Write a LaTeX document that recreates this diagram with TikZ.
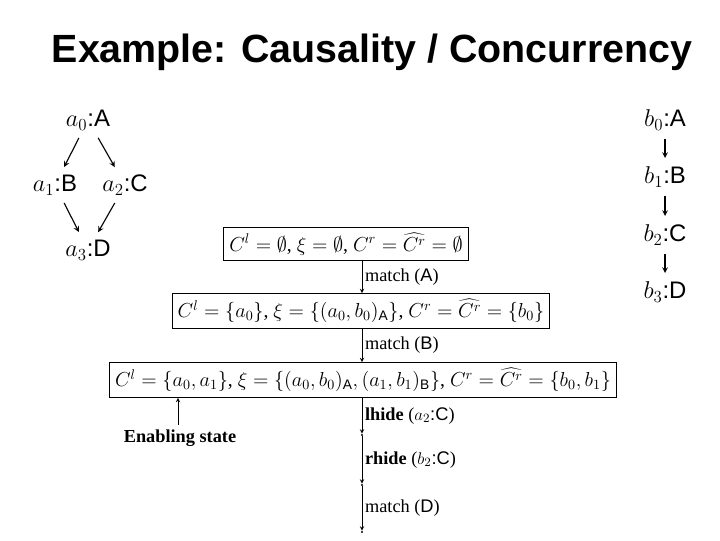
\documentclass[tikz,border=0pt]{standalone}
\usepackage{fontspec}
\setmainfont{Liberation Serif}
\setsansfont{Liberation Sans}
\usetikzlibrary{positioning}
\newcommand{\ev}[2]{$#1$\textsf{:#2}}
\tikzset{
  ev/.style={font=\fontsize{17}{19}\selectfont\sffamily, inner sep=1pt},
  evarrow/.style={->, thick, shorten >=5pt, shorten <=5pt},
  statebox/.style={draw, thick, font=\fontsize{14}{16}\selectfont, inner sep=4pt},
  dot/.style={circle, fill, inner sep=0pt, minimum size=1.6pt},
  lbl/.style={right, font=\fontsize{13}{15}\selectfont, inner sep=2pt},
}
\begin{document}
\begin{tikzpicture}[x=0.025cm,y=-0.025cm,>=stealth]
  \useasboundingbox (0,0) rectangle (720,540);
  \node[font=\fontsize{28}{32}\selectfont\sffamily\bfseries] (title) at (372,52) {Example: Causality / Concurrency};

  % left process
  \node[ev] (a0) at (88,120) {\ev{a_0}{A}};
  \node[ev] (a1) at (55,185) {\ev{a_1}{B}};
  \node[ev] (a2) at (125,185) {\ev{a_2}{C}};
  \node[ev] (a3) at (88,250) {\ev{a_3}{D}};
  \draw[evarrow] (a0) -- (a1);
  \draw[evarrow] (a0) -- (a2);
  \draw[evarrow] (a1) -- (a3);
  \draw[evarrow] (a2) -- (a3);

  % right process
  \node[ev] (b0) at (665,120) {\ev{b_0}{A}};
  \node[ev] (b1) at (665,177) {\ev{b_1}{B}};
  \node[ev] (b2) at (665,235) {\ev{b_2}{C}};
  \node[ev] (b3) at (665,292) {\ev{b_3}{D}};
  \draw[evarrow] (b0) -- (b1);
  \draw[evarrow] (b1) -- (b2);
  \draw[evarrow] (b2) -- (b3);

  % states
  \node[statebox] (s0) at (346,244) {$C^l=\emptyset$, $\xi=\emptyset$, $C^r=\widehat{C^r}=\emptyset$};
  \node[statebox] (s1) at (361,311) {$C^l=\{a_0\}$, $\xi=\{(a_0,b_0)_{\mathsf{A}}\}$, $C^r=\widehat{C^r}=\{b_0\}$};
  \node[statebox] (s2) at (363,380) {$C^l=\{a_0,a_1\}$, $\xi=\{(a_0,b_0)_{\mathsf{A}},(a_1,b_1)_{\mathsf{B}}\}$, $C^r=\widehat{C^r}=\{b_0,b_1\}$};
  \node[dot] (d1) at (362,435) {};
  \node[dot] (d2) at (362,485) {};
  \node[dot] (d3) at (362,532) {};

  \draw[->] (s0.south -| 362,0) -- node[lbl] {match (\textsf{A})} (s1.north -| 362,0);
  \draw[->] (s1.south -| 362,0) -- node[lbl] {match (\textsf{B})} (s2.north -| 362,0);
  \draw[->] (s2.south -| 362,0) -- node[lbl] {\textbf{lhide} (\ev{a_2}{C})} (d1);
  \draw[->] (d1) -- node[lbl] {\textbf{rhide} (\ev{b_2}{C})} (d2);
  \draw[->] (d2) -- node[lbl] {match (\textsf{D})} (d3);

  \node[font=\fontsize{13}{15}\selectfont\bfseries] (enab) at (180,438) {Enabling state};
  \draw[->] (enab.north -| 178,0) -- (s2.south -| 178,0);
\end{tikzpicture}
\end{document}
